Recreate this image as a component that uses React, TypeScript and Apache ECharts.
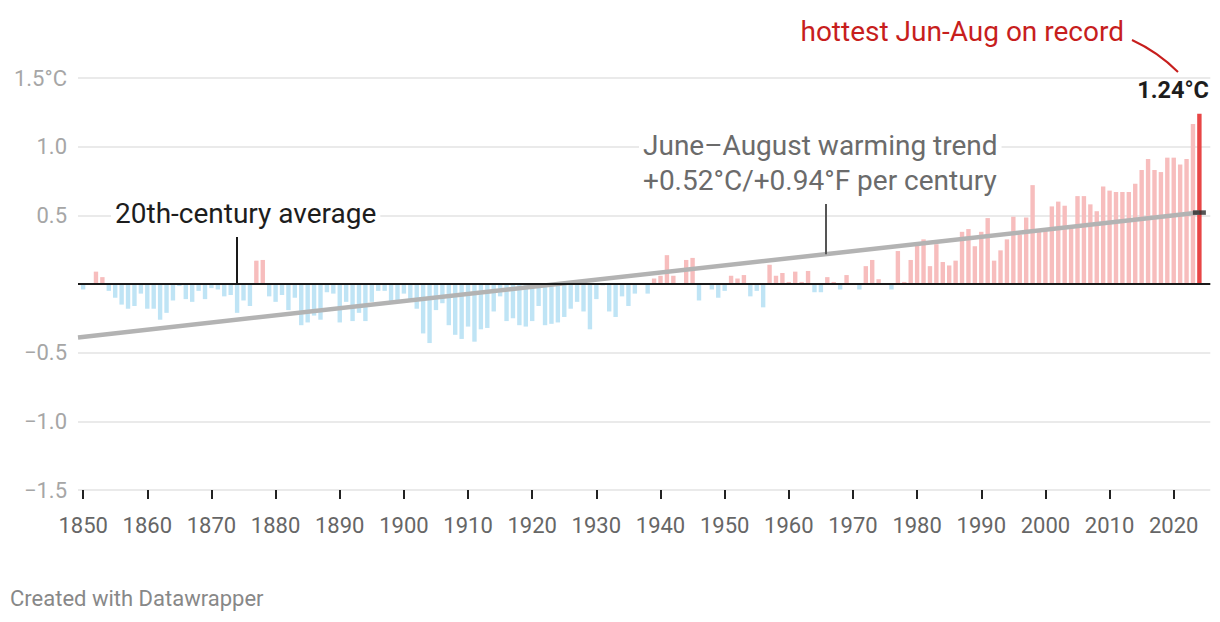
import React, { useEffect, useRef } from "react";
import * as echarts from "echarts";

// ---- data ----
const FIRST_YEAR = 1850;
const RECORD_YEAR = 2024;
const RECORD_VALUE = 1.24;

// June–August anomalies (°C vs 20th-century average)
const anomalies1800s = [
  -0.04, 0, 0.09, 0.05, -0.05, -0.1, -0.15, -0.18, -0.16, -0.07,
  -0.18, -0.18, -0.26, -0.21, -0.12, -0.015, -0.11, -0.13, -0.05, -0.11,
  -0.03, -0.04, -0.09, -0.08, -0.21, -0.12, -0.16, 0.17, 0.175, -0.09,
  -0.13, -0.08, -0.19, -0.1, -0.3, -0.28, -0.23, -0.26, -0.06, -0.07,
  -0.28, -0.13, -0.27, -0.21, -0.27, -0.13, -0.05, -0.05, -0.13, -0.12,
];
const anomalies1900s = [
  -0.07, -0.12, -0.18, -0.36, -0.43, -0.19, -0.14, -0.3, -0.37, -0.4,
  -0.31, -0.42, -0.33, -0.32, -0.2, -0.09, -0.27, -0.25, -0.3, -0.31,
  -0.27, -0.16, -0.3, -0.29, -0.28, -0.24, -0.18, -0.13, -0.2, -0.33,
  -0.11, -0.01, -0.2, -0.24, -0.09, -0.16, -0.07, 0, -0.07, 0.04,
  0.06, 0.21, 0.06, 0, 0.175, 0.19, -0.12, 0, -0.04, -0.1,
  -0.05, 0.06, 0.04, 0.065, -0.09, -0.05, -0.17, 0.14, 0.06, 0.08,
  0.015, 0.09, 0.015, 0.095, -0.06, -0.06, 0.05, 0.015, -0.04, 0.065,
  0, -0.04, 0.13, 0.175, 0.035, 0, -0.04, 0.24, 0.015, 0.175,
  0.28, 0.325, 0.13, 0.29, 0.16, 0.135, 0.17, 0.38, 0.4, 0.275,
  0.38, 0.48, 0.17, 0.245, 0.325, 0.49, 0.36, 0.485, 0.72, 0.38,
];
const anomalies2000s = [
  0.4, 0.565, 0.6, 0.57, 0.42, 0.64, 0.64, 0.58, 0.53, 0.71,
  0.68, 0.67, 0.67, 0.67, 0.73, 0.83, 0.91, 0.83, 0.815, 0.92,
  0.92, 0.87, 0.91, 1.165, RECORD_VALUE,
];

// linear trend (+0.52 °C per century)
const trendStart: [number, number] = [1849.2, -0.389];
const trendEnd: [number, number] = [2024, 0.52];

const decadeTicks = [
  1850, 1860, 1870, 1880, 1890, 1900, 1910, 1920, 1930, 1940,
  1950, 1960, 1970, 1980, 1990, 2000, 2010, 2020,
];

// annotation pointers (year, value)
const averagePointer: [number, number][] = [[1874, 0], [1874, 0.342]];
const trendPointer: [number, number][] = [[1965.8, 0.217], [1965.8, 0.583]];

// ---- styles ----
const PINK = "#f7bdbd";
const BLUE = "#bfe4f5";
const RED_BAR = "#e84646";
const RED_TEXT = "#c71e1d";
const FONT = "Roboto";

export default function App() {
  const ref = useRef<HTMLDivElement>(null);

  useEffect(() => {
    if (!ref.current) return;
    const chart = echarts.init(ref.current, null, { renderer: "svg" });
    const anomalies = [...anomalies1800s, ...anomalies1900s, ...anomalies2000s];
    const barData = anomalies.map((v, i) => {
      const year = FIRST_YEAR + i;
      return {
        value: [year, v],
        itemStyle: {
          color: year === RECORD_YEAR ? RED_BAR : v >= 0 ? PINK : BLUE,
        },
      };
    });

    const fmtY = (v: number) => {
      if (v === 1.5) return "1.5°C";
      if (v === 0) return "";
      return (v < 0 ? "\u2212" : "") + Math.abs(v).toFixed(1);
    };

    chart.setOption({
      animation: false,
      textStyle: { fontFamily: FONT },
      grid: { left: 78, right: 9.7, top: 78, bottom: 132, containLabel: false },
      xAxis: {
        type: "value",
        min: 1849.2,
        max: 2025.7,
        splitLine: { show: false },
        axisLine: { show: false, onZero: false },
        axisTick: {
          show: true,
          customValues: decadeTicks,
          length: 9,
          lineStyle: { color: "#222", width: 2 },
        },
        axisLabel: {
          customValues: decadeTicks,
          color: "#666",
          fontSize: 22,
          fontFamily: FONT,
          margin: 24,
          formatter: (v: number) => String(v),
        },
      },
      yAxis: {
        type: "value",
        min: -1.5,
        max: 1.5,
        interval: 0.5,
        axisLine: { show: false },
        axisTick: { show: false },
        splitLine: { lineStyle: { color: "#e3e3e3", width: 1.5 } },
        axisLabel: {
          color: "#a6a6a6",
          fontSize: 22,
          fontFamily: FONT,
          margin: 11,
          formatter: fmtY,
        },
      },
      series: [
        {
          type: "bar",
          data: barData,
          barWidth: 4.4,
          z: 2,
          silent: true,
          markLine: {
            silent: true,
            symbol: ["none", "none"],
            label: { show: false },
            lineStyle: { color: "#1a1a1a", width: 2, type: "solid" },
            data: [{ yAxis: 0 }],
          },
        },
        {
          type: "line",
          data: [trendStart, trendEnd],
          symbol: "none",
          z: 3,
          silent: true,
          lineStyle: { color: "#b3b3b3", width: 4.5 },
          markLine: {
            silent: true,
            symbol: ["none", "none"],
            label: { show: false },
            data: [
              [
                { coord: averagePointer[0] },
                { coord: averagePointer[1], lineStyle: { color: "#1a1a1a", width: 2, type: "solid" } },
              ],
              [
                { coord: trendPointer[0] },
                { coord: trendPointer[1], lineStyle: { color: "#555", width: 2, type: "solid" } },
              ],
            ],
          },
        },
        {
          type: "scatter",
          data: [trendEnd],
          symbol: "rect",
          symbolSize: [13, 4.5],
          itemStyle: { color: "#2b2b2b" },
          z: 5,
          silent: true,
        },
      ],
      graphic: [
        {
          type: "text",
          x: 111,
          y: 213,
          z: 10,
          style: {
            text: "20th-century average",
            fill: "#1d1d1d",
            fontSize: 28,
            fontFamily: FONT,
            verticalAlign: "middle",
            align: "left",
            backgroundColor: "#fff",
            padding: [0, 4],
          },
        },
        {
          type: "text",
          x: 639,
          y: 145,
          z: 10,
          style: {
            text: "June\u2013August warming trend",
            fill: "#6b6b6b",
            fontSize: 28,
            fontFamily: FONT,
            verticalAlign: "middle",
            align: "left",
            backgroundColor: "#fff",
            padding: [0, 4],
          },
        },
        {
          type: "text",
          x: 639,
          y: 180,
          z: 10,
          style: {
            text: "+0.52°C/+0.94°F per century",
            fill: "#6b6b6b",
            fontSize: 28,
            fontFamily: FONT,
            verticalAlign: "middle",
            align: "left",
            backgroundColor: "#fff",
            padding: [0, 4],
          },
        },
        {
          type: "text",
          x: 1124,
          y: 31,
          z: 10,
          style: {
            text: "hottest Jun-Aug on record",
            fill: RED_TEXT,
            fontSize: 28,
            fontFamily: FONT,
            verticalAlign: "middle",
            align: "right",
          },
        },
        {
          type: "bezierCurve",
          z: 10,
          shape: { x1: 1132, y1: 40, cpx1: 1158, cpy1: 52, x2: 1178, y2: 72 },
          style: { stroke: RED_TEXT, lineWidth: 2, fill: "none" },
        },
        {
          type: "text",
          x: 1209,
          y: 90,
          z: 10,
          style: {
            text: RECORD_VALUE.toFixed(2) + "°C",
            fill: "#1d1d1d",
            fontSize: 23.5,
            fontWeight: "bold",
            fontFamily: FONT,
            verticalAlign: "middle",
            align: "right",
          },
        },
        {
          type: "text",
          x: 10,
          y: 598,
          z: 10,
          style: {
            text: "Created with Datawrapper",
            fill: "#888",
            fontSize: 22,
            fontFamily: FONT,
            verticalAlign: "middle",
            align: "left",
          },
        },
      ],
    });
    return () => chart.dispose();
  }, []);

  return (
    <div
      ref={ref}
      style={{ position: "absolute", left: 0, top: 0, width: 1220, height: 622, background: "#fff" }}
    />
  );
}
